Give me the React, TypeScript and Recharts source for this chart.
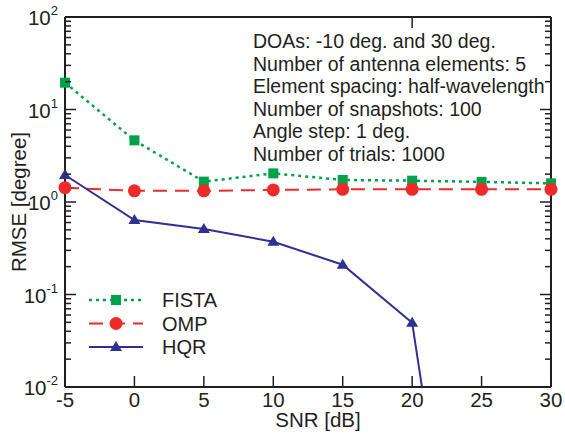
import { LineChart, Line, XAxis, YAxis, Legend } from 'recharts';

const snr = [-5, 0, 5, 10, 15, 20, 25, 30];
const fista = [19.5, 4.64, 1.66, 2.04, 1.73, 1.7, 1.65, 1.59];
const omp = [1.43, 1.32, 1.32, 1.35, 1.37, 1.37, 1.37, 1.37];
const hqr = [1.96, 0.638, 0.51, 0.372, 0.21, 0.0496, 6e-7, 6e-7];

const xTicks = [-5, 0, 5, 10, 15, 20, 25, 30];
const decades = [0.01, 0.1, 1, 10, 100];
const decadeExp = ['-2', '-1', '0', '1', '2'];

const notes = [
  'DOAs: -10 deg. and 30 deg.',
  'Number of antenna elements: 5',
  'Element spacing: half-wavelength',
  'Number of snapshots: 100',
  'Angle step: 1 deg.',
  'Number of trials: 1000',
];

const GREEN = '#00a14b';
const RED = '#ee2a2a';
const BLUE = '#2e3192';
const INK = '#231f20';
const FONT = '"Liberation Sans", Arial, Helvetica, sans-serif';

const yTicks = decades.flatMap((d, i) =>
  i === decades.length - 1 ? [d] : [1, 2, 3, 4, 5, 6, 7, 8, 9].map((k) => d * k)
);

const data = snr.map((s, i) => ({ snr: s, fista: fista[i], omp: omp[i], hqr: hqr[i] }));

function LeftTick({ x, y, payload }: any) {
  const i = decades.indexOf(payload.value);
  if (i < 0) return <line x1={x} x2={x + 6} y1={y} y2={y} stroke={INK} strokeWidth={1.5} />;
  return (
    <g>
      <line x1={x} x2={x + 11} y1={y} y2={y} stroke={INK} strokeWidth={1.5} />
      <text x={x - 7} y={y + 8} textAnchor="end" fontSize={20.5} fontFamily={FONT} fill={INK}>
        10
        <tspan dy={-10} fontSize={13}>{decadeExp[i]}</tspan>
      </text>
    </g>
  );
}

function RightTick({ x, y, payload }: any) {
  const major = decades.indexOf(payload.value) >= 0;
  return <line x1={x} x2={x - (major ? 11 : 6)} y1={y} y2={y} stroke={INK} strokeWidth={1.5} />;
}

function BottomTick({ x, y, payload }: any) {
  return (
    <g>
      <line x1={x} x2={x} y1={y} y2={y - 11} stroke={INK} strokeWidth={1.5} />
      <text x={x} y={y + 20} textAnchor="middle" fontSize={20.5} fontFamily={FONT} fill={INK}>
        {payload.value}
      </text>
    </g>
  );
}

function TopTick({ x, y }: any) {
  return <line x1={x} x2={x} y1={y} y2={y + 11} stroke={INK} strokeWidth={1.5} />;
}

function squareDot(p: any) {
  return <rect key={`sq-${p.index}`} x={p.cx - 5} y={p.cy - 5} width={10} height={10} fill={GREEN} />;
}

function circleDot(p: any) {
  return <circle key={`ci-${p.index}`} cx={p.cx} cy={p.cy} r={6.5} fill={RED} />;
}

function triangleDot(p: any) {
  if (p.payload.hqr < 0.01) return <g key={`tr-${p.index}`} />;
  const { cx, cy } = p;
  return (
    <path
      key={`tr-${p.index}`}
      d={`M${cx - 6},${cy + 4} L${cx + 6},${cy + 4} L${cx},${cy - 6} Z`}
      fill={BLUE}
    />
  );
}

const legendRows = [
  { name: 'FISTA', color: GREEN, dash: '3 4', width: 2.5 },
  { name: 'OMP', color: RED, dash: '14 8', width: 2 },
  { name: 'HQR', color: BLUE, dash: undefined, width: 2 },
];

function LegendBox() {
  return (
    <svg width={140} height={76} style={{ display: 'block' }}>
      {legendRows.map((r, i) => {
        const cy = 14 + i * 23.5;
        return (
          <g key={r.name}>
            <line x1={4} x2={58} y1={cy} y2={cy} stroke={r.color} strokeWidth={r.width} strokeDasharray={r.dash} />
            {i === 0 && <rect x={26} y={cy - 5} width={10} height={10} fill={r.color} />}
            {i === 1 && <circle cx={31} cy={cy} r={6.5} fill={r.color} />}
            {i === 2 && <path d={`M25,${cy + 4} L37,${cy + 4} L31,${cy - 6} Z`} fill={r.color} />}
            <text x={77} y={cy + 7} fontSize={20} fontFamily={FONT} fill={INK}>
              {r.name}
            </text>
          </g>
        );
      })}
    </svg>
  );
}

export default function App() {
  return (
    <div style={{ position: 'fixed', left: 0, top: 0, width: 565, height: 433, background: '#fff' }}>
      <LineChart width={565} height={433} data={data} margin={{ top: 0, right: 0, bottom: 0, left: 0 }}>
        <XAxis
          xAxisId="bottom"
          dataKey="snr"
          type="number"
          domain={[-5, 30]}
          ticks={xTicks}
          interval={0}
          height={46}
          tickSize={0}
          tickMargin={0}
          tick={<BottomTick />}
          axisLine={{ stroke: INK, strokeWidth: 2 }}
          label={{
            content: ({ viewBox }: any) => (
              <text
                x={viewBox.x + viewBox.width / 2 + 10}
                y={viewBox.y + 40}
                textAnchor="middle"
                fontSize={20.5}
                fontFamily={FONT}
                fill={INK}
              >
                SNR [dB]
              </text>
            ),
          }}
        />
        <XAxis
          xAxisId="top"
          orientation="top"
          type="number"
          domain={[-5, 30]}
          ticks={xTicks}
          interval={0}
          height={17}
          tickSize={0}
          tickMargin={0}
          tick={<TopTick />}
          axisLine={{ stroke: INK, strokeWidth: 2 }}
        />
        <YAxis
          yAxisId="left"
          type="number"
          scale="log"
          domain={[0.01, 100]}
          ticks={yTicks}
          interval={0}
          width={65}
          tickSize={0}
          tickMargin={0}
          tick={<LeftTick />}
          axisLine={{ stroke: INK, strokeWidth: 2 }}
          label={{
            content: ({ viewBox }: any) => {
              const cx = viewBox.x + 18.5;
              const cy = viewBox.y + viewBox.height / 2;
              return (
                <text
                  x={cx}
                  y={cy}
                  transform={`rotate(-90, ${cx}, ${cy})`}
                  textAnchor="middle"
                  dominantBaseline="central"
                  fontSize={20.5}
                  fontFamily={FONT}
                  fill={INK}
                >
                  RMSE [degree]
                </text>
              );
            },
          }}
        />
        <YAxis
          yAxisId="right"
          orientation="right"
          type="number"
          scale="log"
          domain={[0.01, 100]}
          allowDataOverflow
          ticks={yTicks}
          interval={0}
          width={14}
          tickSize={0}
          tickMargin={0}
          tick={<RightTick />}
          axisLine={{ stroke: INK, strokeWidth: 2 }}
        />
        <Line
          xAxisId="bottom"
          yAxisId="left"
          dataKey="fista"
          name="FISTA"
          stroke={GREEN}
          strokeWidth={2.5}
          strokeDasharray="3 4"
          dot={squareDot}
          activeDot={false}
          isAnimationActive={false}
        />
        <Line
          xAxisId="bottom"
          yAxisId="left"
          dataKey="omp"
          name="OMP"
          stroke={RED}
          strokeWidth={2}
          strokeDasharray="14 8"
          dot={circleDot}
          activeDot={false}
          isAnimationActive={false}
        />
        <Line
          xAxisId="bottom"
          yAxisId="right"
          dataKey="hqr"
          name="HQR"
          stroke={BLUE}
          strokeWidth={2}
          dot={triangleDot}
          activeDot={false}
          isAnimationActive={false}
        />
        <Legend
          layout="vertical"
          align="center"
          verticalAlign="middle"
          content={<LegendBox />}
          wrapperStyle={{ position: 'absolute', left: 85, top: 286, width: 140, height: 76 }}
        />
      </LineChart>
      <div
        style={{
          position: 'absolute',
          left: 253,
          top: 30,
          fontFamily: FONT,
          fontSize: 19.5,
          lineHeight: '22.5px',
          color: INK,
          whiteSpace: 'nowrap',
        }}
      >
        {notes.map((n) => (
          <div key={n}>{n}</div>
        ))}
      </div>
    </div>
  );
}
